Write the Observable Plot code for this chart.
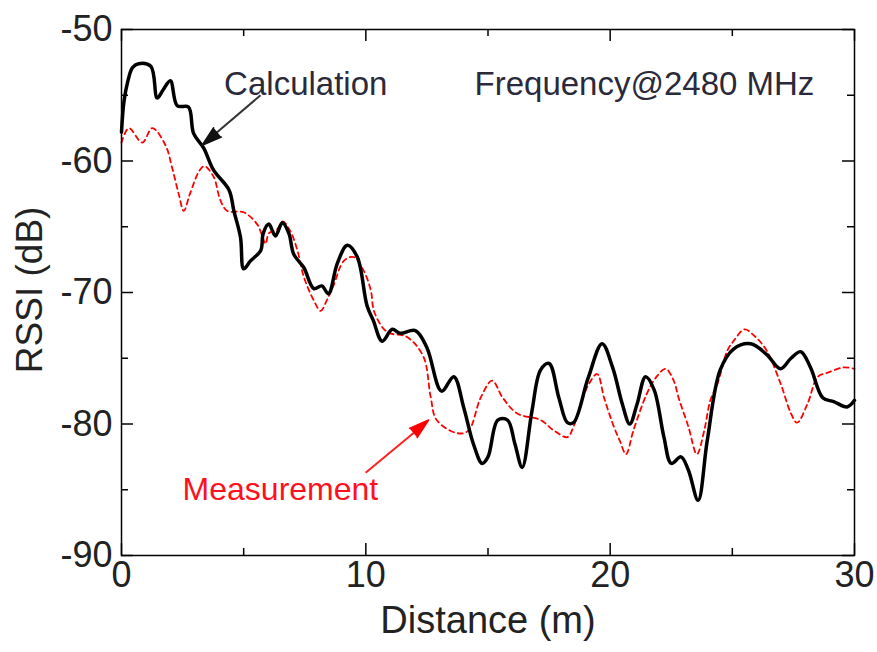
<!DOCTYPE html>
<html>
<head>
<meta charset="utf-8">
<script src="https://cdn.jsdelivr.net/npm/d3@7"></script>
<script src="https://cdn.jsdelivr.net/npm/@observablehq/plot@0.6"></script>
<style>
  html, body { margin: 0; padding: 0; background: #fff; }
  #chart svg { display: block; }
</style>
</head>
<body>
<div id="chart"></div>
<script>
// Calculation (black solid)
const calcDistance = [0.0,0.1,0.25,0.45,0.7,1.2,1.46,1.7,2.0,2.28,2.74,2.95,3.36,3.77,4.4,4.6,4.87,5.0,5.28,5.7,5.8,6.03,6.3,6.58,6.85,7.05,7.46,7.87,8.2,8.47,8.83,9.24,9.65,10.05,10.3,10.67,11.08,11.4,12.03,12.5,13.1,13.6,14.0,14.4,14.76,15.0,15.4,15.8,16.1,16.4,16.8,17.15,17.5,17.9,18.25,18.5,19.1,19.67,20.1,20.5,20.8,21.1,21.45,21.8,22.2,22.5,22.9,23.2,23.6,23.97,24.5,25.05,25.75,26.4,26.97,27.4,27.8,28.2,28.7,29.15,29.7,30.0];
const calcRSSI = [-57.8,-55.5,-54.0,-52.9,-52.6,-52.8,-55.2,-54.6,-53.9,-55.8,-55.9,-57.9,-59.0,-60.7,-62.2,-63.8,-65.8,-68.2,-67.6,-66.8,-65.5,-64.8,-65.7,-64.7,-65.5,-67.1,-68.1,-69.7,-69.5,-70.1,-67.8,-66.4,-67.3,-71.0,-72.1,-73.7,-72.8,-73.1,-72.9,-74.2,-77.5,-76.4,-78.7,-81.5,-83.0,-82.5,-79.7,-79.7,-81.5,-83.3,-79.0,-75.9,-75.4,-78.0,-79.9,-79.9,-76.5,-73.9,-75.7,-78.5,-80.0,-78.5,-76.4,-77.4,-81.0,-83.0,-82.5,-83.5,-85.8,-81.3,-75.9,-74.3,-73.9,-74.7,-75.8,-75.0,-74.5,-75.7,-78.0,-78.3,-78.7,-78.2];

// Measurement (red dashed)
const measDistance = [0.0,0.3,0.85,1.26,1.8,2.07,2.34,2.55,2.8,3.2,3.4,3.77,4.05,4.33,5.0,5.55,5.76,5.9,6.03,6.37,6.6,6.9,7.2,7.46,7.87,8.15,8.4,8.67,9.1,9.5,9.9,10.2,10.35,10.87,11.7,12.36,12.65,12.9,13.75,14.2,14.7,15.17,15.6,16.2,17.15,17.7,18.25,18.5,19.06,19.47,19.75,20.15,20.4,20.65,20.95,21.5,21.9,22.27,22.6,22.8,23.2,23.55,23.85,24.1,24.4,24.8,25.05,25.5,25.9,26.4,26.97,27.4,27.65,28.07,28.5,28.9,29.55,30.0];
const measRSSI = [-58.6,-57.5,-58.6,-57.5,-58.8,-60.5,-62.5,-63.8,-62.5,-60.7,-60.4,-61.2,-63.0,-63.8,-63.9,-64.8,-65.7,-66.3,-65.5,-65.2,-64.6,-65.3,-66.8,-68.8,-70.6,-71.4,-70.6,-69.5,-67.6,-67.3,-68.3,-69.8,-71.5,-73.0,-73.4,-74.9,-77.9,-79.7,-80.7,-80.5,-78.0,-76.7,-78.0,-79.2,-79.7,-80.5,-81.0,-80.2,-77.2,-76.2,-78.0,-80.2,-81.3,-82.3,-80.5,-77.7,-76.4,-75.8,-76.7,-78.0,-80.2,-82.3,-80.5,-78.2,-76.9,-74.4,-73.7,-72.8,-73.3,-74.4,-76.9,-79.2,-79.9,-78.5,-76.4,-76.1,-75.7,-75.8];

// Axes
const xLabelTicks = [0, 10, 20, 30];
const xMinorTicks = [5, 15, 25];
const yLabelTicks = [-90, -80, -70, -60, -50];
const yMinorTicks = [-85, -75, -65, -55];

const calc = calcDistance.map((d, i) => ({distance: d, rssi: calcRSSI[i]}));
const meas = measDistance.map((d, i) => ({distance: d, rssi: measRSSI[i]}));

const W = 877, H = 652;
const mL = 121, mR = 23, mT = 29, mB = 97;
const plotW = W - mL - mR, plotH = H - mT - mB;
const major = 12, minor = 7;
const font = "'Liberation Sans', Arial, sans-serif";
const ink = "#222";

const chart = Plot.plot({
  width: W, height: H,
  marginLeft: mL, marginRight: mR, marginTop: mT, marginBottom: mB,
  style: {fontFamily: font, color: ink, background: "#fff"},
  x: {domain: [0, 30]},
  y: {domain: [-90, -50]},
  marks: [
    // tick labels
    Plot.axisX({ticks: xLabelTicks, tickSize: 0, tickPadding: 6, fontSize: 36, label: null, tickFormat: d => String(d), fill: ink}),
    Plot.axisY({ticks: yLabelTicks, tickSize: 0, tickPadding: 9, fontSize: 36, label: null, tickFormat: d => String(d), fill: ink}),
    // inward ticks on all four sides
    Plot.tickX(xLabelTicks, {x: d => d, insetTop: plotH - major, stroke: "#000", strokeWidth: 1.5}),
    Plot.tickX(xMinorTicks, {x: d => d, insetTop: plotH - minor, stroke: "#000", strokeWidth: 1.5}),
    Plot.tickX(xLabelTicks, {x: d => d, insetBottom: plotH - major, stroke: "#000", strokeWidth: 1.5}),
    Plot.tickX(xMinorTicks, {x: d => d, insetBottom: plotH - minor, stroke: "#000", strokeWidth: 1.5}),
    Plot.tickY(yLabelTicks, {y: d => d, insetRight: plotW - major, stroke: "#000", strokeWidth: 1.5}),
    Plot.tickY(yMinorTicks, {y: d => d, insetRight: plotW - minor, stroke: "#000", strokeWidth: 1.5}),
    Plot.tickY(yLabelTicks, {y: d => d, insetLeft: plotW - major, stroke: "#000", strokeWidth: 1.5}),
    Plot.tickY(yMinorTicks, {y: d => d, insetLeft: plotW - minor, stroke: "#000", strokeWidth: 1.5}),
    // series
    Plot.line(meas, {x: "distance", y: "rssi", stroke: "#ff0000", strokeWidth: 1.8, strokeDasharray: "5,4", curve: "catmull-rom"}),
    Plot.line(calc, {x: "distance", y: "rssi", stroke: "#000", strokeWidth: 3.5, curve: "catmull-rom"}),
    Plot.frame({stroke: "#000", strokeWidth: 1.5}),
    // axis titles
    Plot.text(["Distance (m)"], {frameAnchor: "bottom", dy: 77, fontSize: 38, fill: ink}),
    Plot.text(["RSSI (dB)"], {x: [-3.72], y: [-69.8], text: d => d, rotate: -90, fontSize: 37, fill: ink}),
    // annotations
    Plot.text(["Calculation"], {x: 4.2, y: -54.2, textAnchor: "start", fontSize: 33, fill: "#2a2a3a"}),
    Plot.text(["Frequency@2480 MHz"], {x: 14.45, y: -54.2, textAnchor: "start", fontSize: 33, fill: "#2a2a3a"}),
    Plot.text(["Measurement"], {x: 2.5, y: -85.0, textAnchor: "start", fontSize: 32, fill: "#ff1020"}),
    Plot.link([{x1: 5.69, y1: -55.0, x2: 3.6, y2: -58.3}], {x1: "x1", y1: "y1", x2: "x2", y2: "y2", stroke: "#333", strokeWidth: 2}),
    Plot.vector([{x: 3.3, y: -58.8}], {x: "x", y: "y", length: 20, rotate: 230, anchor: "end", shape: "spike", r: 6, fill: "#111", stroke: "#111"}),
    Plot.link([{x1: 9.99, y1: -83.7, x2: 12.2, y2: -80.3}], {x1: "x1", y1: "y1", x2: "x2", y2: "y2", stroke: "#ff2020", strokeWidth: 2}),
    Plot.vector([{x: 12.57, y: -79.7}], {x: "x", y: "y", length: 20, rotate: 50, anchor: "end", shape: "spike", r: 6, fill: "#ff0000", stroke: "#ff0000"})
  ]
});
document.getElementById("chart").appendChild(chart);
</script>
</body>
</html>
